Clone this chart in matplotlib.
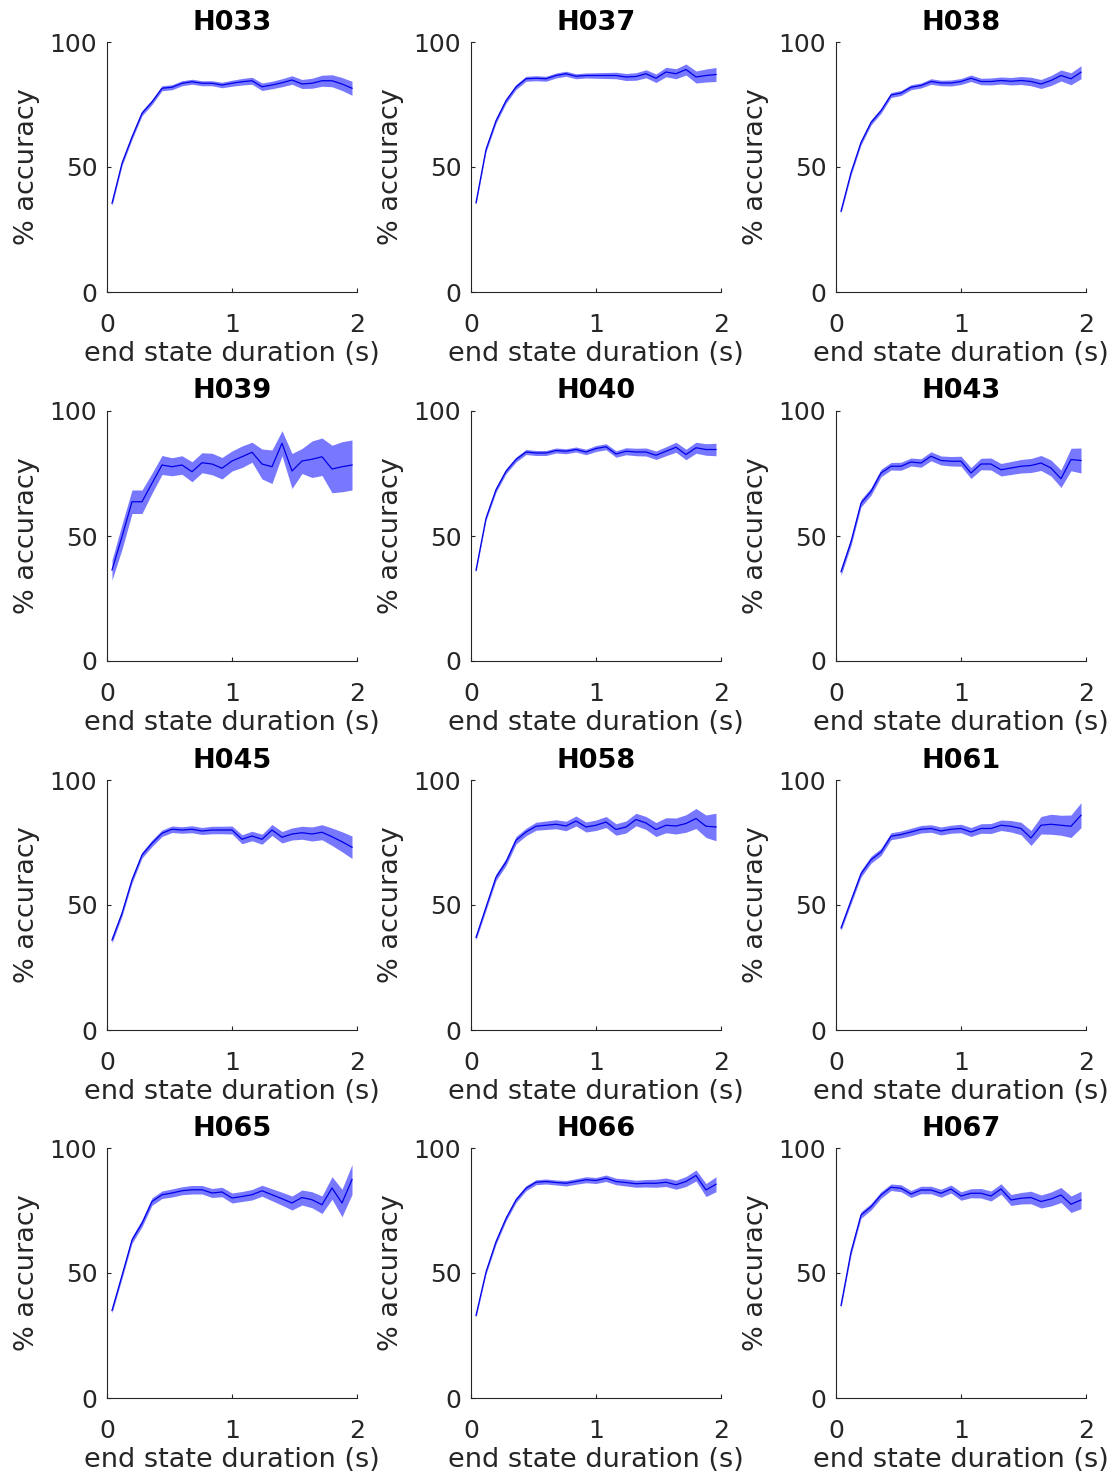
import matplotlib
matplotlib.use("Agg")
import matplotlib.pyplot as plt

# end state durations (s) at which decoding accuracy was evaluated
durations = [0.04, 0.12, 0.20, 0.28, 0.36, 0.44, 0.52, 0.60, 0.68, 0.76, 0.84, 0.92, 1.00,
             1.08, 1.16, 1.24, 1.32, 1.40, 1.48, 1.56, 1.64, 1.72, 1.80, 1.88, 1.96]

subjects = ["H033", "H037", "H038", "H039", "H040", "H043",
            "H045", "H058", "H061", "H065", "H066", "H067"]

# mean % accuracy per subject
h033_mean = [35.5, 51.5, 62.0, 71.5, 76.0, 81.5, 81.9, 83.5, 84.1, 83.5, 83.5, 82.8, 83.5,
             84.1, 84.5, 82.1, 82.8, 83.7, 84.8, 83.2, 83.5, 84.5, 84.5, 83.2, 81.5]
h037_mean = [35.7, 57.0, 68.5, 76.5, 82.0, 85.3, 85.5, 85.3, 86.6, 87.3, 86.3, 86.6, 86.6,
             86.6, 86.6, 86.0, 86.2, 87.3, 85.5, 88.0, 87.3, 89.0, 86.0, 86.6, 87.0]
h038_mean = [32.3, 47.7, 59.8, 67.8, 72.5, 78.8, 79.6, 81.9, 82.6, 84.2, 83.6, 83.6, 84.2,
             85.5, 84.2, 84.2, 84.6, 84.3, 84.6, 84.2, 83.2, 84.6, 86.6, 85.3, 87.9]
h039_mean = [36.4, 49.7, 63.7, 63.7, 71.1, 78.4, 77.7, 78.4, 75.7, 79.3, 78.8, 77.1, 80.0,
             81.7, 83.5, 78.8, 77.7, 87.1, 76.0, 80.0, 80.7, 81.7, 76.8, 77.7, 78.4]
h040_mean = [36.3, 57.1, 68.5, 75.9, 80.6, 83.6, 83.2, 83.2, 84.2, 83.9, 84.6, 83.6, 85.0,
             85.7, 82.8, 83.9, 83.6, 83.6, 82.3, 83.9, 85.5, 82.6, 85.3, 84.6, 84.6]
h043_mean = [35.7, 47.7, 63.1, 67.8, 75.2, 77.9, 77.9, 79.6, 79.2, 81.9, 80.2, 79.9, 79.9,
             75.2, 78.8, 78.8, 76.5, 77.2, 77.9, 78.2, 79.2, 77.2, 72.9, 80.6, 80.2]
h045_mean = [36.0, 46.7, 60.0, 70.0, 74.7, 78.7, 80.3, 80.0, 80.3, 79.6, 80.0, 80.0, 80.0,
             76.3, 77.6, 76.3, 80.0, 77.1, 78.4, 78.9, 78.4, 79.1, 77.3, 75.3, 73.1]
h058_mean = [37.0, 49.1, 61.1, 67.2, 75.9, 79.2, 81.5, 81.9, 82.3, 81.6, 83.6, 81.2, 81.9,
             83.2, 80.2, 81.2, 84.2, 82.8, 80.2, 81.9, 81.6, 82.6, 84.6, 81.5, 81.2]
h061_mean = [40.8, 51.7, 62.5, 68.1, 71.2, 77.5, 78.2, 79.2, 80.3, 80.6, 79.6, 80.3, 80.6,
             79.2, 80.6, 80.6, 81.9, 81.5, 80.6, 76.8, 81.9, 82.3, 81.9, 81.5, 85.9]
h065_mean = [35.0, 49.0, 63.2, 69.9, 78.6, 81.3, 82.0, 82.9, 83.3, 83.3, 82.0, 82.4, 80.0,
             80.6, 81.3, 82.9, 81.3, 79.7, 78.0, 80.2, 79.3, 77.3, 84.0, 78.0, 87.4]
h066_mean = [33.0, 50.4, 62.5, 71.8, 79.2, 83.9, 86.3, 86.6, 86.2, 85.9, 86.6, 87.3, 87.0,
             87.9, 86.6, 86.2, 85.7, 85.9, 85.9, 86.3, 85.3, 86.6, 89.0, 83.2, 85.5]
h067_mean = [37.0, 58.4, 73.2, 76.5, 81.2, 84.3, 83.9, 81.6, 83.2, 83.2, 81.9, 83.6, 80.8,
             81.9, 81.9, 80.8, 83.6, 79.2, 79.9, 80.2, 78.6, 79.6, 81.2, 77.5, 79.2]

# standard error of the mean per subject
h033_err = [1.0, 1.0, 1.0, 1.0, 1.0, 1.0, 1.0, 1.0, 1.0, 1.0, 1.0, 1.1, 1.2,
            1.3, 1.4, 1.5, 1.5, 1.6, 1.7, 1.8, 2.0, 2.2, 2.4, 2.6, 2.8]
h037_err = [0.8, 1.0, 1.0, 1.0, 1.0, 1.0, 1.0, 1.0, 1.0, 1.0, 1.0, 1.0, 1.1,
            1.2, 1.3, 1.4, 1.5, 1.6, 1.7, 1.9, 2.0, 2.2, 2.4, 2.6, 2.8]
h038_err = [0.8, 1.0, 1.0, 1.0, 1.0, 1.0, 1.0, 1.0, 1.0, 1.1, 1.1, 1.2, 1.2,
            1.3, 1.3, 1.4, 1.4, 1.5, 1.6, 1.7, 1.8, 2.0, 2.2, 2.4, 2.6]
h039_err = [4.0, 5.0, 4.7, 4.7, 4.0, 3.8, 3.6, 3.7, 4.0, 4.0, 4.3, 4.3, 4.0,
            4.3, 4.0, 6.0, 6.7, 5.0, 7.0, 5.0, 7.3, 7.5, 9.5, 10.0, 10.0]
h040_err = [0.8, 0.9, 1.0, 1.0, 1.0, 1.0, 1.0, 1.0, 1.0, 1.0, 1.0, 1.1, 1.2,
            1.2, 1.3, 1.4, 1.5, 1.6, 1.7, 1.8, 2.0, 2.1, 2.2, 2.3, 2.5]
h043_err = [1.5, 1.5, 1.5, 1.5, 1.5, 1.5, 1.6, 1.6, 1.7, 1.8, 1.8, 1.9, 2.0,
            2.2, 2.3, 2.4, 2.5, 2.6, 2.7, 2.8, 3.0, 3.2, 3.5, 4.5, 5.0]
h045_err = [1.2, 1.2, 1.2, 1.2, 1.3, 1.3, 1.3, 1.3, 1.4, 1.4, 1.5, 1.5, 1.6,
            1.8, 1.9, 2.0, 2.2, 2.3, 2.4, 2.6, 2.8, 3.0, 3.5, 4.0, 4.5]
h058_err = [1.0, 1.2, 1.3, 1.4, 1.5, 1.5, 1.6, 1.7, 1.8, 1.9, 2.0, 2.0, 2.1,
            2.2, 2.3, 2.4, 2.5, 2.6, 2.8, 3.0, 3.2, 3.5, 4.0, 4.5, 5.5]
h061_err = [1.0, 1.2, 1.3, 1.4, 1.4, 1.4, 1.4, 1.5, 1.5, 1.5, 1.6, 1.6, 1.7,
            1.8, 1.9, 2.0, 2.1, 2.3, 2.5, 3.0, 3.5, 4.0, 4.0, 4.5, 5.0]
h065_err = [1.0, 1.2, 1.3, 1.4, 1.5, 1.5, 1.6, 1.6, 1.7, 1.7, 1.8, 1.9, 2.0,
            2.0, 2.1, 2.2, 2.4, 2.6, 2.8, 3.0, 3.2, 3.5, 4.5, 5.5, 6.0]
h066_err = [0.8, 0.9, 1.0, 1.0, 1.0, 1.0, 1.0, 1.0, 1.0, 1.1, 1.1, 1.2, 1.2,
            1.3, 1.3, 1.4, 1.4, 1.5, 1.6, 1.7, 1.8, 2.0, 2.2, 2.6, 3.0]
h067_err = [1.0, 1.2, 1.3, 1.3, 1.3, 1.3, 1.4, 1.4, 1.5, 1.5, 1.6, 1.6, 1.7,
            1.8, 1.9, 2.0, 2.1, 2.2, 2.3, 2.5, 2.6, 2.8, 3.0, 3.3, 3.5]

means = [h033_mean, h037_mean, h038_mean, h039_mean, h040_mean, h043_mean,
         h045_mean, h058_mean, h061_mean, h065_mean, h066_mean, h067_mean]
errors = [h033_err, h037_err, h038_err, h039_err, h040_err, h043_err,
          h045_err, h058_err, h061_err, h065_err, h066_err, h067_err]

AX_GREY = (0.15, 0.15, 0.15)
plt.rcParams["font.family"] = "DejaVu Sans"


def shaded_error_bar(ax, x, y, err):
    """Mean line with a filled band of +/- err around it"""
    lower = [m - e for m, e in zip(y, err)]
    upper = [m + e for m, e in zip(y, err)]
    ax.fill_between(x, lower, upper, color="#7878ff", linewidth=0)
    ax.plot(x, y, color="#0000e6", linewidth=0.9)


def style_axes(ax, name):
    ax.set_xlim(0, 2)
    ax.set_ylim(0, 100)
    ax.set_xticks([0, 1, 2])
    ax.set_yticks([0, 50, 100])
    ax.spines["top"].set_visible(False)
    ax.spines["right"].set_visible(False)
    for side in ("left", "bottom"):
        ax.spines[side].set_color(AX_GREY)
        ax.spines[side].set_linewidth(0.8)
    ax.tick_params(direction="in", length=3, width=0.8, colors=AX_GREY, labelsize=18)
    ax.tick_params(axis="x", pad=15)
    ax.tick_params(axis="y", pad=7)
    ax.set_xlabel("end state duration (s)", fontsize=19.5, color=AX_GREY, labelpad=3)
    ax.set_ylabel("% accuracy", fontsize=19.5, color=AX_GREY, labelpad=7)
    ax.set_title(name, fontsize=19.5, fontweight="bold", pad=9)


fig = plt.figure(figsize=(11.16, 14.72), dpi=100)

lefts = [107, 471, 836]
bottoms = [292, 661, 1030, 1398]
for i, name in enumerate(subjects):
    row, col = divmod(i, 3)
    ax = fig.add_axes([lefts[col] / 1116, (1472 - bottoms[row]) / 1472, 250 / 1116, 250 / 1472])
    shaded_error_bar(ax, durations, means[i], errors[i])
    style_axes(ax, name)

fig.savefig("out.png", dpi=100, facecolor="white")
